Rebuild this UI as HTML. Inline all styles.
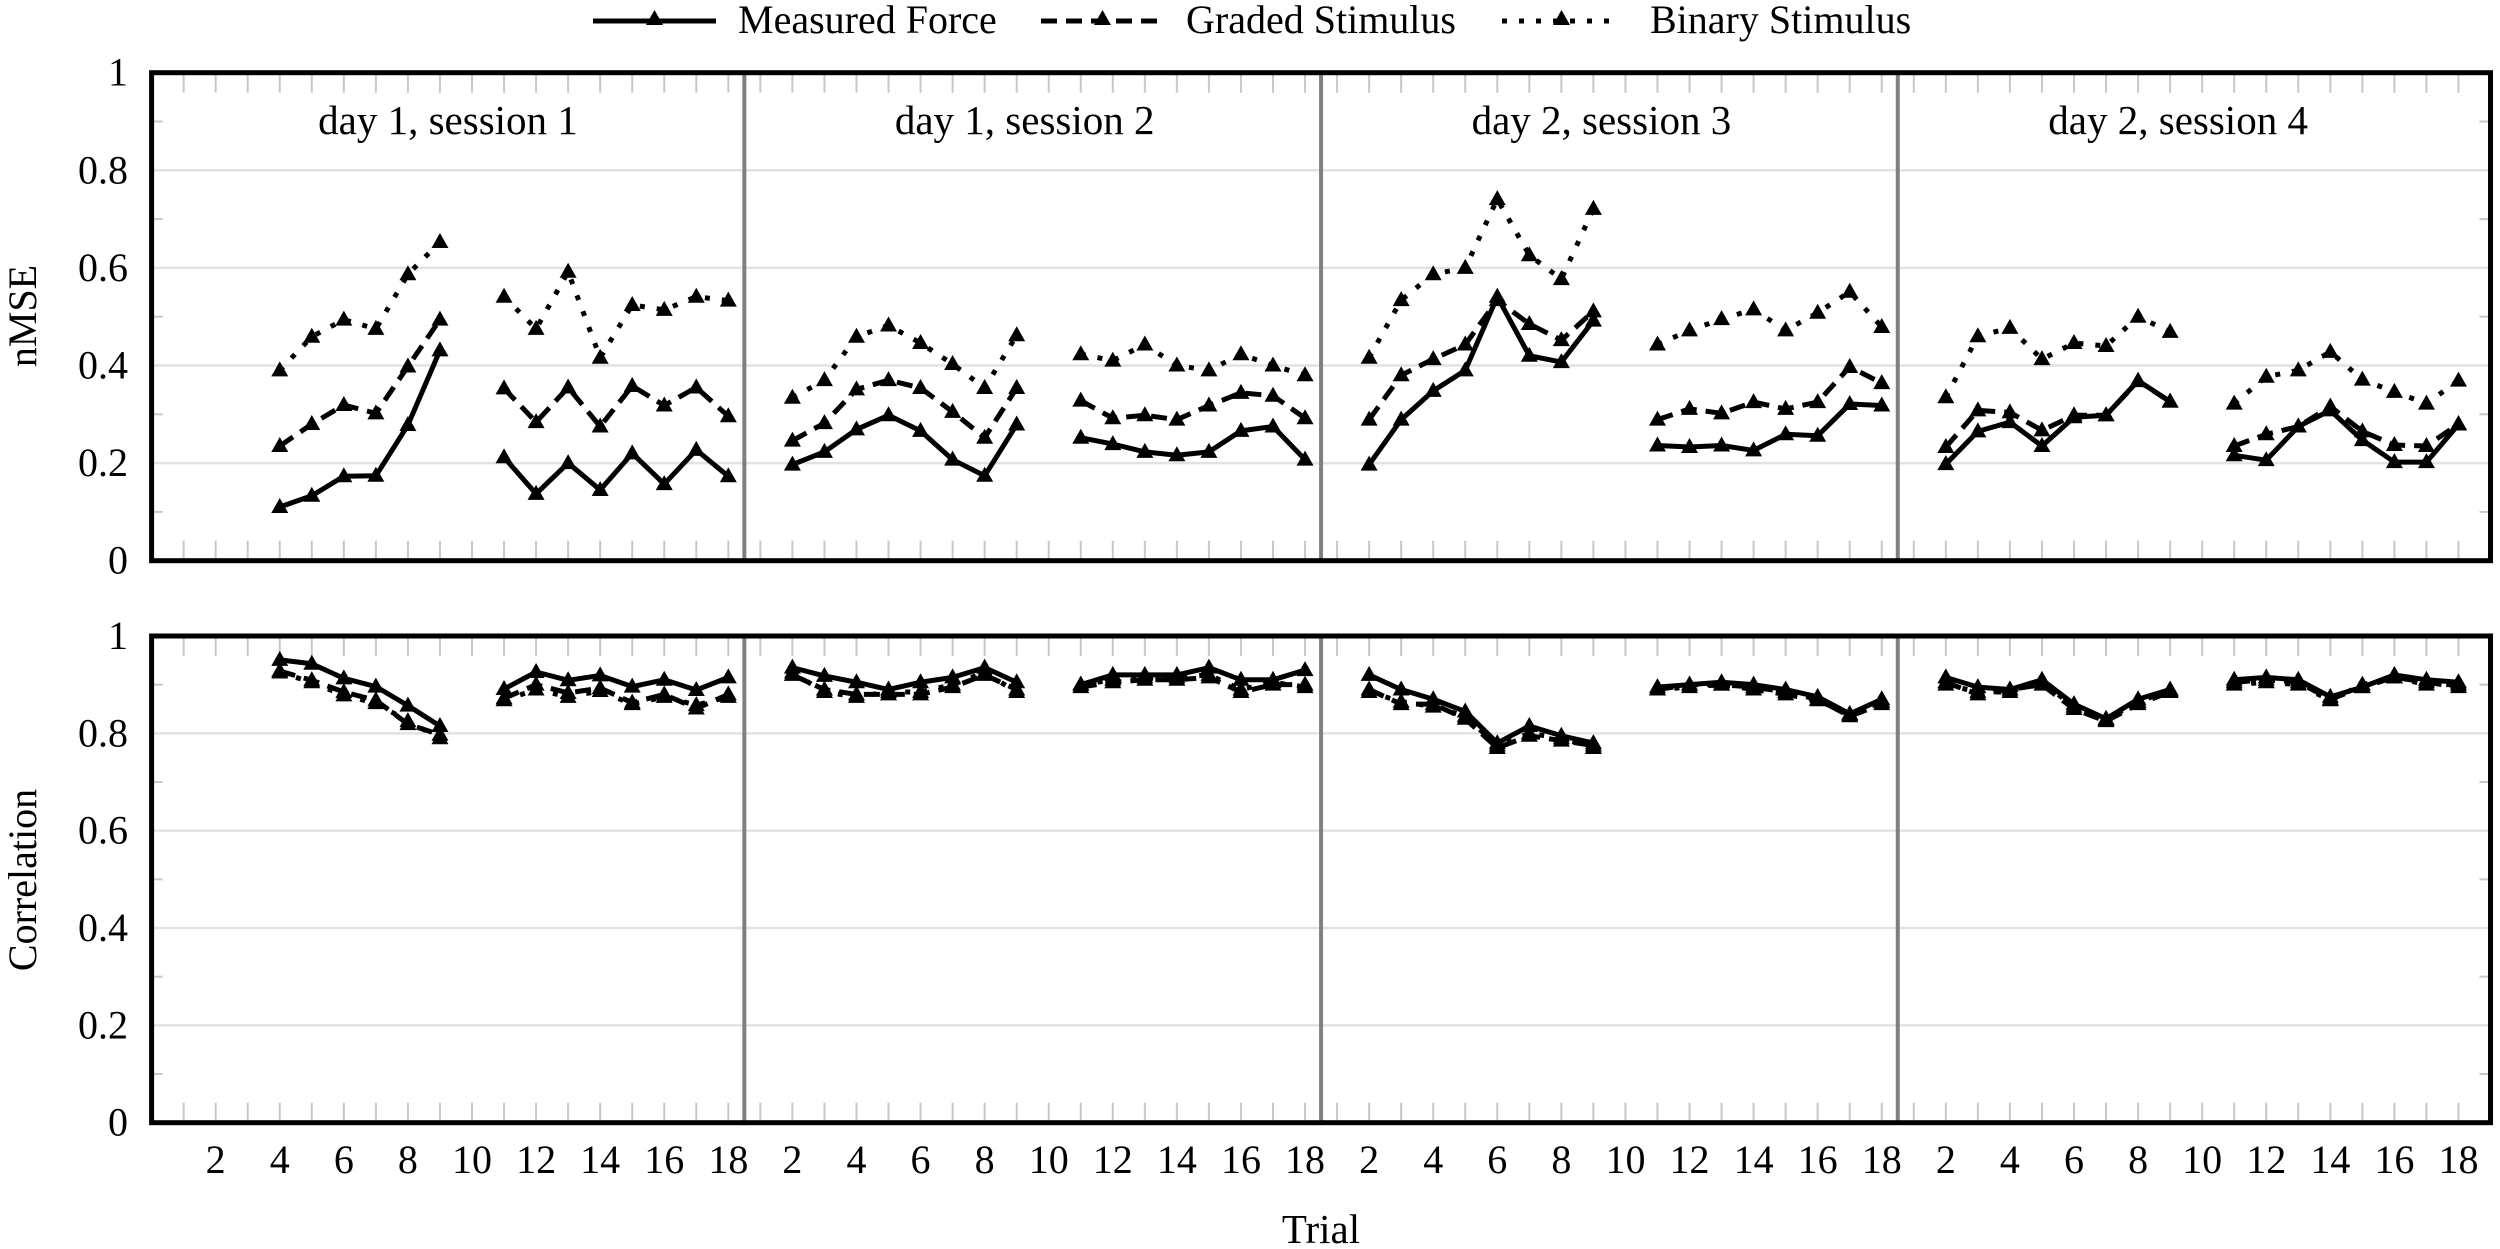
<!DOCTYPE html>
<html><head><meta charset="utf-8"><style>
html,body{margin:0;padding:0;background:#fff;}
svg{display:block;}
svg text{font-family:"Liberation Serif","Times New Roman","DejaVu Serif",serif !important;fill:#000;}
</style></head><body>
<svg id="s" width="2500" height="1249" xmlns="http://www.w3.org/2000/svg" font-family="Liberation Serif, serif"></svg>
<script>
const S=document.getElementById('s');
let h='';
const X=g=>151.6+32.04*g;
const P=[{top:72.7,bot:560.7},{top:636,bot:1122.7}];
const Y=(p,v)=>P[p].bot-(P[p].bot-P[p].top)*v;
const t1=[4,5,6,7,8,9],tA=[2,3,4,5,6,7,8,9],tB=[11,12,13,14,15,16,17,18];
const nm={
 M:[[.11,.133,.173,.174,.278,.431,.212,.137,.2,.145,.22,.157,.227,.173],
    [.197,.223,.269,.298,.266,.207,.174,.279,.252,.239,.223,.216,.223,.266,.275,.207],
    [.197,.289,.348,.39,.541,.42,.407,.492,.236,.233,.236,.226,.259,.256,.321,.318],
    [.198,.265,.284,.235,.294,.298,.369,.326,.216,.206,.275,.308,.247,.202,.202,.279]],
 G:[[.235,.28,.319,.302,.398,.494,.353,.284,.355,.275,.358,.318,.355,.296],
    [.246,.282,.351,.37,.354,.305,.252,.354,.328,.292,.298,.289,.318,.344,.338,.292],
    [.289,.38,.413,.443,.534,.485,.452,.511,.289,.311,.302,.325,.311,.325,.397,.364],
    [.233,.308,.304,.267,.298,.298,.368,.326,.235,.259,.275,.316,.265,.237,.235,.28]],
 B:[[.39,.459,.494,.475,.587,.653,.541,.475,.592,.416,.524,.514,.541,.533],
    [.334,.37,.459,.482,.446,.403,.354,.462,.423,.41,.443,.4,.39,.423,.4,.38],
    [.416,.534,.587,.6,.741,.626,.577,.721,.443,.472,.495,.515,.472,.508,.551,.479],
    [.335,.46,.477,.413,.446,.44,.5,.469,.322,.377,.39,.428,.371,.346,.322,.369]]};
const co={
 M:[[.951,.943,.913,.896,.857,.815,.891,.926,.909,.919,.896,.91,.889,.915],
    [.935,.918,.905,.89,.905,.915,.935,.905,.9,.92,.92,.92,.935,.91,.91,.93],
    [.92,.89,.87,.845,.78,.815,.795,.78,.895,.9,.905,.9,.89,.875,.84,.87],
    [.915,.895,.89,.91,.86,.83,.87,.89,.91,.915,.91,.875,.895,.92,.91,.905]],
 G:[[.928,.909,.885,.868,.819,.797,.872,.9,.883,.893,.863,.88,.851,.88],
    [.92,.89,.88,.88,.88,.895,.92,.89,.895,.905,.91,.91,.915,.885,.9,.9],
    [.89,.86,.86,.83,.77,.795,.785,.775,.89,.9,.9,.895,.885,.87,.835,.86],
    [.905,.88,.89,.9,.85,.825,.86,.885,.905,.91,.905,.87,.895,.915,.905,.895]],
 B:[[.925,.905,.878,.862,.825,.79,.868,.89,.875,.887,.86,.875,.858,.875],
    [.925,.885,.875,.885,.885,.9,.925,.885,.9,.91,.915,.915,.92,.89,.905,.895],
    [.885,.865,.855,.835,.775,.8,.79,.77,.89,.895,.9,.89,.88,.868,.838,.865],
    [.9,.885,.885,.905,.855,.828,.865,.888,.9,.905,.9,.868,.9,.915,.9,.9]]};
const sty={M:'',G:'stroke-dasharray="16 9"',B:'stroke-dasharray="5 12"'};
function tri(x,y){return `<path d="M${x},${y-9} L${x+8.5},${y+6} L${x-8.5},${y+6}Z" fill="#000"/>`;}
const F='font-family="Liberation Serif, serif"';
function plot(p,D){
 const t=P[p].top,b=P[p].bot,L=X(0),R=X(73);
 for(let v=.2;v<.99;v+=.2){h+=`<line x1="${L}" x2="${R}" y1="${Y(p,v)}" y2="${Y(p,v)}" stroke="#e2e2e2" stroke-width="2.5"/>`;}
 for(let v=.1;v<1;v+=.2){h+=`<line x1="${L}" x2="${L+11}" y1="${Y(p,v)}" y2="${Y(p,v)}" stroke="#c8c8c8" stroke-width="2"/><line x1="${R-11}" x2="${R}" y1="${Y(p,v)}" y2="${Y(p,v)}" stroke="#c8c8c8" stroke-width="2"/>`;}
 for(let g=1;g<73;g++){const x=X(g);h+=`<line x1="${x}" x2="${x}" y1="${t}" y2="${t+20}" stroke="#c8c8c8" stroke-width="2"/><line x1="${x}" x2="${x}" y1="${b-20}" y2="${b}" stroke="#c8c8c8" stroke-width="2"/>`;}
 for(const g of [18.5,36.5,54.5]){h+=`<line x1="${X(g)}" x2="${X(g)}" y1="${t}" y2="${b}" stroke="#808080" stroke-width="4"/>`;}
 for(const k of ['B','G','M']){
  for(let s=0;s<4;s++){
   const v=D[k][s];const ta=s==0?t1:tA;const n=ta.length;
   const segs=[ta.map((tt,i)=>[X(18*s+tt),Y(p,v[i])]),tB.map((tt,i)=>[X(18*s+tt),Y(p,v[n+i])])];
   for(const sg of segs){
    h+=`<polyline points="${sg.map(q=>q.join(',')).join(' ')}" fill="none" stroke="#000" stroke-width="5" stroke-linejoin="round" ${sty[k]}/>`;
    for(const q of sg)h+=tri(q[0],q[1]);
   }
  }
 }
 h+=`<rect x="${L}" y="${t}" width="${R-L}" height="${b-t}" fill="none" stroke="#000" stroke-width="5"/>`;
 for(let i=0;i<=5;i++){const v=i/5;const lab=i==0?'0':i==5?'1':v.toFixed(1);
  h+=`<text ${F} x="128" y="${Y(p,v)+13}" font-size="40" text-anchor="end">${lab}</text>`;}
}
plot(0,nm);plot(1,co);
const tt=['day 1, session 1','day 1, session 2','day 2, session 3','day 2, session 4'];
for(let s=0;s<4;s++)h+=`<text ${F} x="${X(18*s+9.25)}" y="134" font-size="41" text-anchor="middle">${tt[s]}</text>`;
for(let s=0;s<4;s++)for(let t=2;t<=18;t+=2)h+=`<text ${F} x="${X(18*s+t)}" y="1173" font-size="40" text-anchor="middle">${t}</text>`;
h+=`<text ${F} x="1321" y="1243" font-size="41" text-anchor="middle">Trial</text>`;
h+=`<text ${F} transform="translate(36,316) rotate(-90)" font-size="40" text-anchor="middle">nMSE</text>`;
h+=`<text ${F} transform="translate(36,880) rotate(-90)" font-size="40" text-anchor="middle">Correlation</text>`;
const lg=[[593,716,738,'Measured Force','M'],[1041,1164,1186,'Graded Stimulus','G'],[1502,1621,1650,'Binary Stimulus','B']];
for(const l of lg){h+=`<line x1="${l[0]}" x2="${l[1]}" y1="21" y2="21" stroke="#000" stroke-width="5" ${sty[l[4]]}/>`+tri((l[0]+l[1])/2,19)+`<text ${F} x="${l[2]}" y="33" font-size="40">${l[3]}</text>`;}
S.innerHTML=h;
</script>
</body></html>
